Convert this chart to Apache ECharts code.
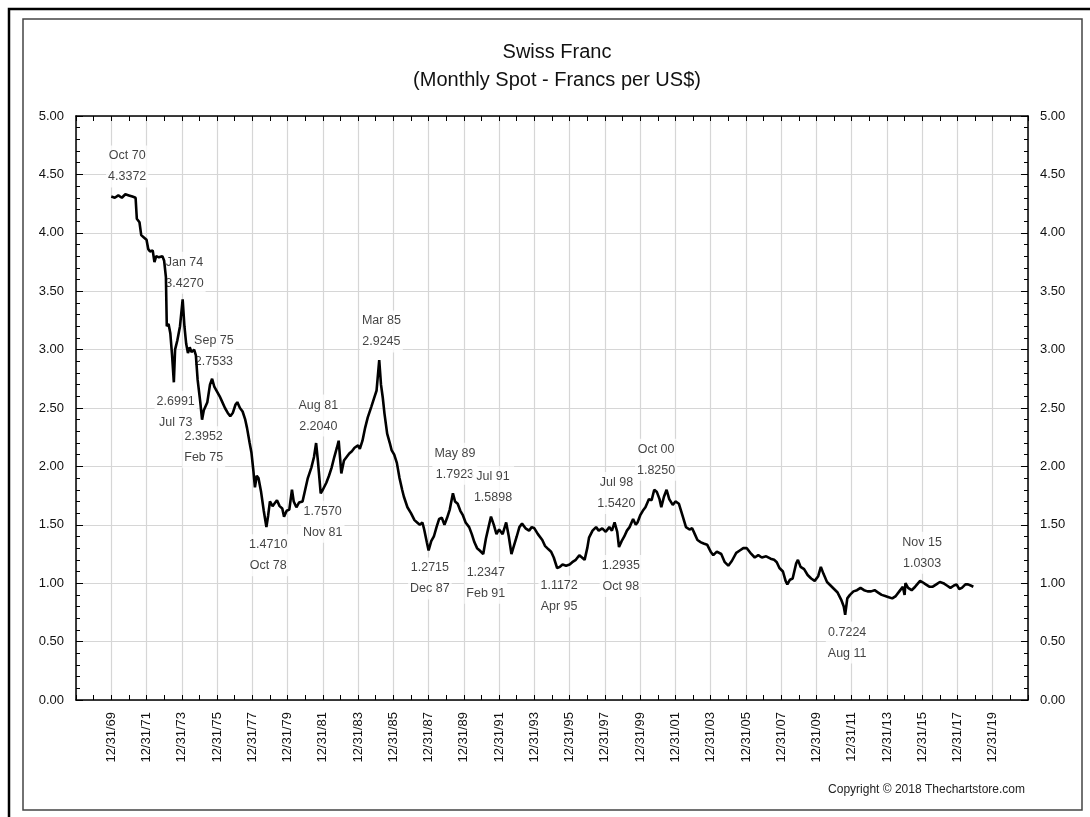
<!DOCTYPE html>
<html>
<head>
<meta charset="utf-8">
<script src="https://cdn.jsdelivr.net/npm/echarts@6/dist/echarts.min.js"></script>
<style>
  html, body { margin: 0; padding: 0; background: #fff; }
  #chart { width: 1090px; height: 817px; }
</style>
</head>
<body>
<div id="chart"></div>
<script>
// monthly spot, francs per US$ (time as decimal year)
var dates = [
  1970.0, 1970.2, 1970.4, 1970.6, 1970.8, 1971.0, 1971.2, 1971.38, 1971.45, 1971.6,
  1971.7, 1971.85, 1972.0, 1972.1, 1972.2, 1972.35, 1972.45, 1972.55, 1972.7, 1972.9,
  1973.0, 1973.1, 1973.15, 1973.25, 1973.35, 1973.45, 1973.55, 1973.62, 1973.75, 1973.9,
  1974.05, 1974.15, 1974.25, 1974.35, 1974.45, 1974.55, 1974.7, 1974.8, 1974.9, 1975.05,
  1975.15, 1975.25, 1975.35, 1975.45, 1975.6, 1975.72, 1975.85, 1976.0, 1976.15, 1976.3,
  1976.45, 1976.6, 1976.75, 1976.9, 1977.05, 1977.15, 1977.3, 1977.45, 1977.6, 1977.7,
  1977.85, 1977.95, 1978.05, 1978.15, 1978.25, 1978.35, 1978.5, 1978.65, 1978.8, 1978.9,
  1979.0, 1979.15, 1979.25, 1979.4, 1979.55, 1979.7, 1979.8, 1979.95, 1980.1, 1980.25,
  1980.35, 1980.5, 1980.65, 1980.85, 1981.0, 1981.15, 1981.35, 1981.5, 1981.62, 1981.72,
  1981.88, 1982.0, 1982.2, 1982.35, 1982.5, 1982.65, 1982.8, 1982.9, 1983.05, 1983.2,
  1983.35, 1983.5, 1983.65, 1983.8, 1984.0, 1984.1, 1984.25, 1984.4, 1984.55, 1984.75,
  1984.9, 1985.05, 1985.2, 1985.3, 1985.4, 1985.5, 1985.65, 1985.8, 1985.9, 1986.05,
  1986.2, 1986.35, 1986.5, 1986.6, 1986.8, 1987.0, 1987.2, 1987.35, 1987.5, 1987.65,
  1987.75, 1987.9, 1988.0, 1988.15, 1988.3, 1988.45, 1988.6, 1988.75, 1988.9, 1989.05,
  1989.2, 1989.38, 1989.5, 1989.65, 1989.8, 1989.95, 1990.1, 1990.3, 1990.45, 1990.6,
  1990.75, 1990.9, 1991.1, 1991.25, 1991.4, 1991.54, 1991.7, 1991.85, 1992.0, 1992.2,
  1992.4, 1992.55, 1992.7, 1992.8, 1993.0, 1993.15, 1993.3, 1993.5, 1993.7, 1993.85,
  1994.0, 1994.2, 1994.45, 1994.6, 1994.8, 1994.95, 1995.1, 1995.29, 1995.45, 1995.6,
  1995.8, 1996.0, 1996.15, 1996.35, 1996.55, 1996.7, 1996.85, 1997.0, 1997.1, 1997.3,
  1997.5, 1997.65, 1997.85, 1998.05, 1998.25, 1998.4, 1998.55, 1998.7, 1998.8, 1998.95,
  1999.1, 1999.25, 1999.4, 1999.6, 1999.75, 1999.85, 2000.0, 2000.15, 2000.3, 2000.5,
  2000.65, 2000.8, 2000.95, 2001.1, 2001.2, 2001.35, 2001.5, 2001.65, 2001.85, 2002.0,
  2002.2, 2002.4, 2002.6, 2002.8, 2002.95, 2003.1, 2003.25, 2003.45, 2003.6, 2003.8,
  2004.0, 2004.15, 2004.35, 2004.6, 2004.8, 2005.0, 2005.2, 2005.45, 2005.65, 2005.85,
  2006.05, 2006.25, 2006.5, 2006.7, 2006.9, 2007.15, 2007.4, 2007.6, 2007.75, 2007.9,
  2008.1, 2008.25, 2008.35, 2008.5, 2008.65, 2008.85, 2008.95, 2009.1, 2009.3, 2009.5,
  2009.7, 2009.9, 2010.1, 2010.25, 2010.4, 2010.6, 2010.8, 2011.0, 2011.2, 2011.4,
  2011.55, 2011.63, 2011.75, 2011.9, 2012.1, 2012.3, 2012.5, 2012.7, 2012.9, 2013.1,
  2013.3, 2013.5, 2013.7, 2013.9, 2014.1, 2014.3, 2014.5, 2014.7, 2014.9, 2015.0,
  2015.05, 2015.2, 2015.4, 2015.6, 2015.88, 2016.0, 2016.2, 2016.4, 2016.6, 2016.8,
  2017.0, 2017.2, 2017.4, 2017.6, 2017.8, 2017.95, 2018.1, 2018.25, 2018.45, 2018.6,
  2018.75, 2018.9
];
var rates = [
  4.31, 4.30, 4.32, 4.30, 4.33, 4.32, 4.31, 4.30, 4.12, 4.09,
  3.98, 3.96, 3.94, 3.86, 3.84, 3.85, 3.75, 3.80, 3.79, 3.80,
  3.76, 3.62, 3.20, 3.22, 3.14, 2.95, 2.72, 3.00, 3.08, 3.20,
  3.43, 3.20, 3.05, 2.97, 3.02, 2.98, 3.00, 2.95, 2.74, 2.55,
  2.40, 2.48, 2.47, 2.55, 2.70, 2.75, 2.68, 2.64, 2.60, 2.55,
  2.50, 2.46, 2.43, 2.46, 2.53, 2.55, 2.50, 2.47, 2.40, 2.33,
  2.20, 2.12, 1.98, 1.82, 1.92, 1.90, 1.78, 1.62, 1.48, 1.58,
  1.70, 1.66, 1.68, 1.71, 1.66, 1.64, 1.57, 1.62, 1.63, 1.80,
  1.70, 1.65, 1.69, 1.70, 1.80, 1.90, 1.99, 2.08, 2.20, 2.05,
  1.77, 1.80, 1.86, 1.92, 1.99, 2.08, 2.16, 2.22, 1.94, 2.05,
  2.08, 2.11, 2.13, 2.16, 2.18, 2.15, 2.22, 2.33, 2.42, 2.51,
  2.58, 2.65, 2.91, 2.70, 2.59, 2.45, 2.28, 2.20, 2.14, 2.10,
  2.03, 1.90, 1.80, 1.74, 1.65, 1.60, 1.54, 1.52, 1.50, 1.52,
  1.46, 1.35, 1.28, 1.36, 1.40, 1.48, 1.55, 1.56, 1.50, 1.56,
  1.63, 1.77, 1.70, 1.68, 1.62, 1.58, 1.52, 1.48, 1.42, 1.35,
  1.30, 1.28, 1.25, 1.38, 1.48, 1.57, 1.50, 1.42, 1.46, 1.42,
  1.52, 1.40, 1.25, 1.30, 1.40, 1.48, 1.51, 1.47, 1.45, 1.48,
  1.47, 1.42, 1.37, 1.32, 1.29, 1.27, 1.22, 1.13, 1.14, 1.16,
  1.15, 1.16, 1.18, 1.20, 1.24, 1.22, 1.20, 1.30, 1.39, 1.45,
  1.48, 1.45, 1.47, 1.44, 1.48, 1.45, 1.52, 1.44, 1.31, 1.36,
  1.40, 1.45, 1.48, 1.55, 1.50, 1.52, 1.58, 1.62, 1.65, 1.72,
  1.71, 1.80, 1.78, 1.72, 1.65, 1.74, 1.80, 1.72, 1.67, 1.70,
  1.68, 1.58, 1.48, 1.46, 1.47, 1.42, 1.37, 1.35, 1.34, 1.33,
  1.27, 1.24, 1.27, 1.25, 1.18, 1.15, 1.19, 1.26, 1.28, 1.30,
  1.30, 1.26, 1.22, 1.24, 1.22, 1.23, 1.21, 1.20, 1.18, 1.13,
  1.10, 1.02, 0.99, 1.03, 1.04, 1.17, 1.20, 1.14, 1.12, 1.07,
  1.04, 1.02, 1.06, 1.14, 1.08, 1.01, 0.98, 0.95, 0.92, 0.86,
  0.80, 0.73, 0.87, 0.90, 0.93, 0.94, 0.96, 0.94, 0.93, 0.93,
  0.94, 0.92, 0.90, 0.89, 0.88, 0.87, 0.89, 0.93, 0.97, 0.90,
  1.00, 0.96, 0.94, 0.97, 1.02, 1.01, 0.99, 0.97, 0.97, 0.99,
  1.01, 1.00, 0.98, 0.96, 0.98, 0.99, 0.95, 0.96, 0.99, 0.99,
  0.98, 0.97
];

// turning points called out on the chart
var noteDates  = [1970.79, 1974.04, 1975.71, 1973.54, 1975.13, 1981.63, 1978.79, 1981.88, 1985.21, 1989.38,
                  1991.54, 1987.96, 1991.13, 1995.29, 1998.54, 1998.79, 2000.79, 2011.63, 2015.88];
var noteValues = [4.3372, 3.4270, 2.7533, 2.6991, 2.3952, 2.2040, 1.4710, 1.7570, 2.9245, 1.7923,
                  1.5898, 1.2715, 1.2347, 1.1172, 1.5420, 1.2935, 1.8250, 0.7224, 1.0303];
var noteMonths = ['Oct 70', 'Jan 74', 'Sep 75', 'Jul 73', 'Feb 75', 'Aug 81', 'Oct 78', 'Nov 81', 'Mar 85', 'May 89',
                  'Jul 91', 'Dec 87', 'Feb 91', 'Apr 95', 'Jul 98', 'Oct 98', 'Oct 00', 'Aug 11', 'Nov 15'];
var noteIsHigh = [true, true, true, false, false, true, false, false, true, true,
                  true, false, false, false, true, false, true, false, true];

var yTicks = [0, 5, 0.5];     // min, max, step
var xYears = [1968, 2022, 2]; // min, max, step

var mychart = echarts.init(document.getElementById('chart'));
var font = 'Liberation Sans, Arial, sans-serif';

var line = [];
for (var i = 0; i < dates.length; i++) line.push([dates[i], rates[i]]);

var notes = [];
for (var j = 0; j < noteDates.length; j++) {
  var hi = noteIsHigh[j];
  var txt = hi ? noteMonths[j] + '\n' + noteValues[j].toFixed(4) : noteValues[j].toFixed(4) + '\n' + noteMonths[j];
  notes.push({
    value: [noteDates[j], noteValues[j]],
    label: { position: hi ? 'top' : 'bottom', distance: 6, formatter: txt, offset: [2, 0] }
  });
}

function yearLabel(v) {
  if (v < 1970 || v > 2020) return '';
  var y = (v - 1) % 100;
  return '12/31/' + (y < 10 ? '0' + y : y);
}

var axisCommon = {
  type: 'value',
  axisLine: { show: true, onZero: false, lineStyle: { color: '#000', width: 1.5 } },
  axisTick: { show: true, inside: true, length: 5, lineStyle: { color: '#000' } },
  minorTick: { show: true, length: 4, lineStyle: { color: '#000' } },
  splitLine: { show: true, lineStyle: { color: '#d6d6d6', width: 1.2 } }
};

var option = {
  animation: false,
  backgroundColor: '#fff',
  title: {
    text: 'Swiss Franc\n(Monthly Spot - Francs per US$)',
    left: 552, top: 33, textAlign: 'center',
    textStyle: { fontFamily: font, fontSize: 20, fontWeight: 'normal', color: '#111', lineHeight: 28 }
  },
  grid: { left: 76, right: 62, top: 116, bottom: 117 },
  xAxis: [
    Object.assign({}, axisCommon, {
      position: 'bottom', min: xYears[0], max: xYears[1], interval: xYears[2],
      minorTick: { show: true, splitNumber: 2, length: 5, lineStyle: { color: '#000' } },
      axisLabel: { rotate: 90, margin: 12, fontFamily: font, fontSize: 13, color: '#111', formatter: yearLabel }
    }),
    Object.assign({}, axisCommon, {
      position: 'top', min: xYears[0], max: xYears[1], interval: xYears[2],
      minorTick: { show: true, splitNumber: 2, length: 5, lineStyle: { color: '#000' } },
      axisLabel: { show: false }, splitLine: { show: false }
    })
  ],
  yAxis: [
    Object.assign({}, axisCommon, {
      position: 'left', min: yTicks[0], max: yTicks[1], interval: yTicks[2],
      minorTick: { show: true, splitNumber: 5, length: 4, lineStyle: { color: '#000' } },
      axisTick: { show: true, inside: true, length: 7, lineStyle: { color: '#000' } },
      axisLabel: { margin: 12, fontFamily: font, fontSize: 13, color: '#111', formatter: function (v) { return v.toFixed(2); } }
    }),
    Object.assign({}, axisCommon, {
      position: 'right', min: yTicks[0], max: yTicks[1], interval: yTicks[2],
      minorTick: { show: true, splitNumber: 5, length: 4, lineStyle: { color: '#000' } },
      axisTick: { show: true, inside: true, length: 7, lineStyle: { color: '#000' } },
      axisLabel: { margin: 12, fontFamily: font, fontSize: 13, color: '#111', formatter: function (v) { return v.toFixed(2); } },
      splitLine: { show: false }
    })
  ],
  series: [
    {
      name: 'notes', type: 'scatter', data: notes, symbolSize: 0, z: 1,
      label: {
        show: true, fontFamily: font, fontSize: 12.5, color: '#111', lineHeight: 21,
        align: 'center', backgroundColor: '#fff', padding: [0, 2]
      }
    },
    {
      name: 'CHF', type: 'line', data: line, symbol: 'none',
      lineStyle: { color: '#000', width: 2.6 }, z: 3
    }
  ],
  graphic: [
    { type: 'rect', shape: { x: 9, y: 9, width: 1100, height: 830 }, style: { fill: 'none', stroke: '#000', lineWidth: 2.5 } },
    { type: 'rect', shape: { x: 23, y: 19, width: 1059, height: 791 }, style: { fill: 'none', stroke: '#444', lineWidth: 1.5 } },
    { type: 'text', right: 65, top: 784, style: { text: 'Copyright \u00a9 2018 Thechartstore.com', font: '12px Liberation Sans, Arial, sans-serif', fill: '#222' } }
  ]
};

mychart.setOption(option);
</script>
</body>
</html>
